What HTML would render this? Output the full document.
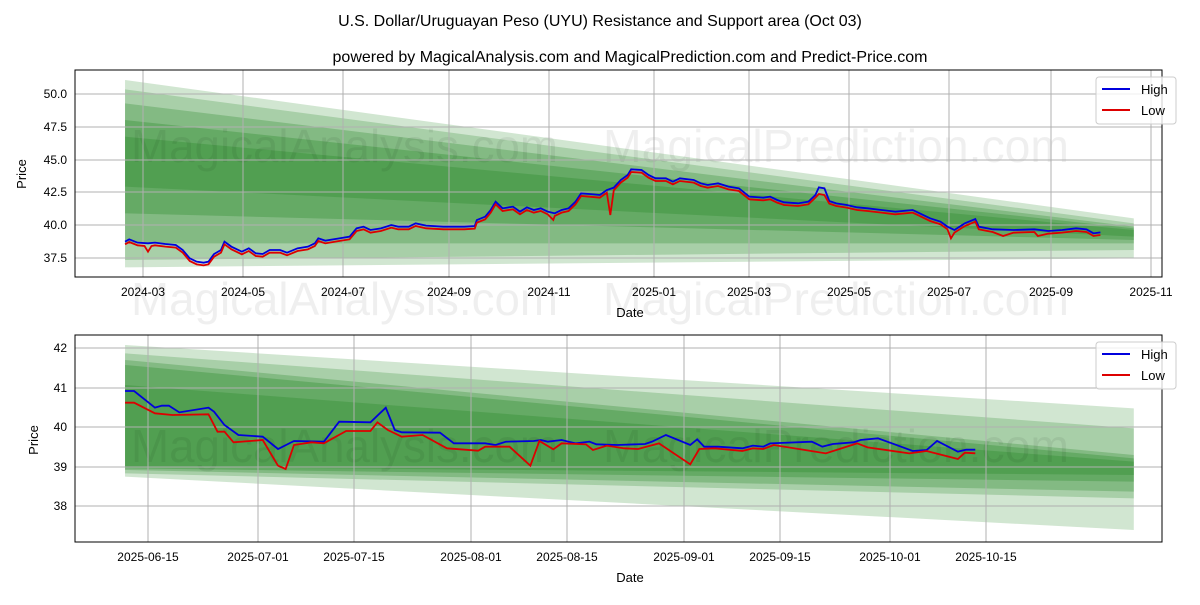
<!DOCTYPE html>
<html><head><meta charset="utf-8"><style>body{margin:0;background:#fff}svg text{font-family:"Liberation Sans",sans-serif}</style></head><body>
<svg width="1200" height="600" xmlns="http://www.w3.org/2000/svg">
<text x="600" y="26" font-size="16" text-anchor="middle">U.S. Dollar/Uruguayan Peso (UYU) Resistance and Support area (Oct 03)</text>
<text x="630" y="62" font-size="16" text-anchor="middle">powered by MagicalAnalysis.com and MagicalPrediction.com and Predict-Price.com</text>
<g transform="translate(75,70) scale(0.6952,0.33333)" fill="#2e8b2e">
<polygon points="72,30 1523,445 1523,565 72,592" opacity="0.22"/>
<polygon points="72,58 1523,460 1523,540 72,570" opacity="0.25"/>
<polygon points="72,100 1523,470 1523,520 72,520" opacity="0.3"/>
<polygon points="72,150 1523,475 1523,510 72,430" opacity="0.35"/>
<polygon points="72,200 1523,480 1523,500 72,350" opacity="0.35"/>
</g>
<g fill="#000" opacity="0.06" font-size="46">
<text x="131" y="162" textLength="427" lengthAdjust="spacingAndGlyphs">MagicalAnalysis.com</text>
<text x="603" y="162" textLength="466" lengthAdjust="spacingAndGlyphs">MagicalPrediction.com</text>
<text x="131" y="315" textLength="427" lengthAdjust="spacingAndGlyphs">MagicalAnalysis.com</text>
<text x="603" y="315" textLength="466" lengthAdjust="spacingAndGlyphs">MagicalPrediction.com</text>
</g>
<g stroke="#b0b0b0" stroke-width="1">
<line x1="143" y1="70" x2="143" y2="277"/><line x1="243" y1="70" x2="243" y2="277"/><line x1="343" y1="70" x2="343" y2="277"/><line x1="449" y1="70" x2="449" y2="277"/><line x1="549" y1="70" x2="549" y2="277"/><line x1="654" y1="70" x2="654" y2="277"/><line x1="749" y1="70" x2="749" y2="277"/><line x1="849" y1="70" x2="849" y2="277"/><line x1="949" y1="70" x2="949" y2="277"/><line x1="1051" y1="70" x2="1051" y2="277"/><line x1="1151" y1="70" x2="1151" y2="277"/>
<line x1="75" y1="94" x2="1162" y2="94"/><line x1="75" y1="127" x2="1162" y2="127"/><line x1="75" y1="160" x2="1162" y2="160"/><line x1="75" y1="192" x2="1162" y2="192"/><line x1="75" y1="225" x2="1162" y2="225"/><line x1="75" y1="258" x2="1162" y2="258"/>
</g>
<g transform="translate(75,70) scale(0.6952,0.33333)" fill="none" stroke-width="1.8">
<polyline vector-effect="non-scaling-stroke" stroke="#0000dd" points="72,515 78,508 90,518 105,520 115,518 130,522 145,525 155,540 165,565 175,575 185,578 192,575 200,552 210,540 215,515 225,530 240,545 250,535 260,550 270,552 280,540 295,540 305,548 320,535 335,530 345,520 350,505 360,512 380,505 395,500 405,475 415,470 425,480 440,475 455,465 465,470 480,470 490,460 505,467 530,470 560,470 575,468 578,450 590,440 598,420 605,395 615,415 630,410 640,425 650,412 660,420 670,415 680,425 690,430 700,420 710,415 720,395 728,370 740,372 755,375 765,360 775,353 785,330 795,315 800,298 815,300 825,315 835,325 850,325 860,335 870,325 890,330 900,340 910,345 925,340 940,350 955,355 970,380 990,383 1000,380 1010,390 1020,397 1040,400 1055,395 1065,375 1070,352 1078,355 1085,393 1095,400 1110,405 1125,412 1140,415 1160,420 1180,425 1205,420 1215,430 1230,445 1245,455 1255,470 1265,480 1280,460 1295,447 1300,470 1320,478 1350,480 1380,478 1400,483 1420,480 1440,475 1455,478 1465,490 1475,487"/>
<polyline vector-effect="non-scaling-stroke" stroke="#dd0000" points="72,523 78,516 90,526 100,528 105,545 110,528 115,526 130,530 145,533 155,548 165,573 175,583 185,586 192,583 200,560 210,548 215,523 225,538 240,553 250,543 260,558 270,560 280,548 295,548 305,556 320,543 335,538 345,528 350,513 360,520 380,513 395,508 405,483 415,478 425,488 440,483 455,473 465,478 480,478 490,468 505,475 530,478 560,478 575,476 578,458 590,448 598,428 605,403 615,423 630,418 640,433 650,420 660,428 670,423 680,433 688,450 690,438 700,428 710,423 720,403 728,378 740,380 755,383 765,368 770,435 775,361 785,338 795,323 800,306 815,308 825,323 835,333 850,333 860,343 870,333 890,338 900,348 910,353 925,348 940,358 955,363 970,388 990,391 1000,388 1010,398 1020,405 1040,408 1055,403 1065,383 1070,372 1078,375 1085,401 1095,408 1110,413 1125,420 1140,423 1160,428 1180,433 1205,428 1215,438 1230,453 1245,463 1255,478 1260,505 1265,488 1280,468 1295,455 1300,478 1320,486 1335,498 1350,488 1380,486 1385,498 1400,491 1420,488 1440,483 1455,486 1465,498 1475,495"/>
</g>
<rect x="75" y="70" width="1087" height="207" fill="none" stroke="#000" stroke-width="1"/>
<g font-size="12" text-anchor="end"><text x="67" y="98">50.0</text><text x="67" y="131">47.5</text><text x="67" y="164">45.0</text><text x="67" y="196">42.5</text><text x="67" y="229">40.0</text><text x="67" y="262">37.5</text></g>
<g font-size="12" text-anchor="middle"><text x="143" y="296">2024-03</text><text x="243" y="296">2024-05</text><text x="343" y="296">2024-07</text><text x="449" y="296">2024-09</text><text x="549" y="296">2024-11</text><text x="654" y="296">2025-01</text><text x="749" y="296">2025-03</text><text x="849" y="296">2025-05</text><text x="949" y="296">2025-07</text><text x="1051" y="296">2025-09</text><text x="1151" y="296">2025-11</text></g>
<text x="630" y="317" font-size="13" text-anchor="middle">Date</text>
<text x="26" y="174" font-size="13" text-anchor="middle" transform="rotate(-90 26 174)">Price</text>
<rect x="1096" y="77" width="80" height="47" rx="3" fill="#fff" fill-opacity="0.8" stroke="#ccc"/>
<line x1="1102" y1="89" x2="1130" y2="89" stroke="#0000dd" stroke-width="2"/><text x="1141" y="94" font-size="13">High</text>
<line x1="1102" y1="110" x2="1130" y2="110" stroke="#dd0000" stroke-width="2"/><text x="1141" y="115" font-size="13">Low</text>
<g transform="translate(75,335) scale(0.6952,0.33333)" fill="#2e8b2e">
<polygon points="72,30 1523,220 1523,585 72,425" opacity="0.22"/>
<polygon points="72,55 1523,280 1523,490 72,415" opacity="0.25"/>
<polygon points="72,75 1523,360 1523,470 72,405" opacity="0.3"/>
<polygon points="72,90 1523,370 1523,440 72,400" opacity="0.35"/>
<polygon points="72,150 1523,380 1523,420 72,395" opacity="0.35"/>
</g>
<g fill="#000" opacity="0.06" font-size="46">
<text x="131" y="462" textLength="427" lengthAdjust="spacingAndGlyphs">MagicalAnalysis.com</text>
<text x="603" y="462" textLength="466" lengthAdjust="spacingAndGlyphs">MagicalPrediction.com</text>
</g>
<g stroke="#b0b0b0" stroke-width="1">
<line x1="148" y1="335" x2="148" y2="542"/><line x1="258" y1="335" x2="258" y2="542"/><line x1="354" y1="335" x2="354" y2="542"/><line x1="471" y1="335" x2="471" y2="542"/><line x1="567" y1="335" x2="567" y2="542"/><line x1="684" y1="335" x2="684" y2="542"/><line x1="780" y1="335" x2="780" y2="542"/><line x1="890" y1="335" x2="890" y2="542"/><line x1="986" y1="335" x2="986" y2="542"/>
<line x1="75" y1="348" x2="1162" y2="348"/><line x1="75" y1="388" x2="1162" y2="388"/><line x1="75" y1="427" x2="1162" y2="427"/><line x1="75" y1="467" x2="1162" y2="467"/><line x1="75" y1="506" x2="1162" y2="506"/>
</g>
<g transform="translate(75,335) scale(0.6952,0.33333)" fill="none">
<polyline vector-effect="non-scaling-stroke" stroke="#0000dd" stroke-width="1.8" points="72,168 85,168 115,218 125,212 135,212 150,232 192,218 200,230 215,270 235,300 270,305 292,342 315,318 358,320 380,260 425,262 447,218 460,285 470,292 525,293 545,325 590,325 605,330 620,320 660,318 670,315 680,320 700,315 720,325 740,320 750,328 780,330 820,327 830,320 850,300 885,330 895,313 905,335 925,335 960,340 975,332 990,335 1000,325 1060,320 1075,335 1090,327 1120,322 1130,315 1155,310 1175,325 1205,348 1225,345 1240,318 1270,350 1282,344 1295,344"/>
<polyline vector-effect="non-scaling-stroke" stroke="#dd0000" stroke-width="1.8" points="72,203 85,203 115,235 140,240 192,238 205,290 215,290 228,322 270,315 292,392 303,402 315,330 340,322 358,325 390,288 425,288 435,262 450,285 470,305 500,300 535,340 580,347 590,335 625,335 655,392 668,318 688,343 700,325 735,328 745,345 765,332 790,340 810,342 840,325 885,388 898,342 920,340 960,348 975,340 990,342 1005,330 1050,345 1080,355 1125,325 1140,337 1200,355 1225,348 1270,372 1280,353 1295,355"/>
</g>
<rect x="75" y="335" width="1087" height="207" fill="none" stroke="#000" stroke-width="1"/>
<g font-size="12" text-anchor="end"><text x="67" y="352">42</text><text x="67" y="392">41</text><text x="67" y="431">40</text><text x="67" y="471">39</text><text x="67" y="510">38</text></g>
<g font-size="12" text-anchor="middle"><text x="148" y="561">2025-06-15</text><text x="258" y="561">2025-07-01</text><text x="354" y="561">2025-07-15</text><text x="471" y="561">2025-08-01</text><text x="567" y="561">2025-08-15</text><text x="684" y="561">2025-09-01</text><text x="780" y="561">2025-09-15</text><text x="890" y="561">2025-10-01</text><text x="986" y="561">2025-10-15</text></g>
<text x="630" y="582" font-size="13" text-anchor="middle">Date</text>
<text x="38" y="440" font-size="13" text-anchor="middle" transform="rotate(-90 38 440)">Price</text>
<rect x="1096" y="342" width="80" height="47" rx="3" fill="#fff" fill-opacity="0.8" stroke="#ccc"/>
<line x1="1102" y1="354" x2="1130" y2="354" stroke="#0000dd" stroke-width="2"/><text x="1141" y="359" font-size="13">High</text>
<line x1="1102" y1="375" x2="1130" y2="375" stroke="#dd0000" stroke-width="2"/><text x="1141" y="380" font-size="13">Low</text>
</svg>
</body></html>
